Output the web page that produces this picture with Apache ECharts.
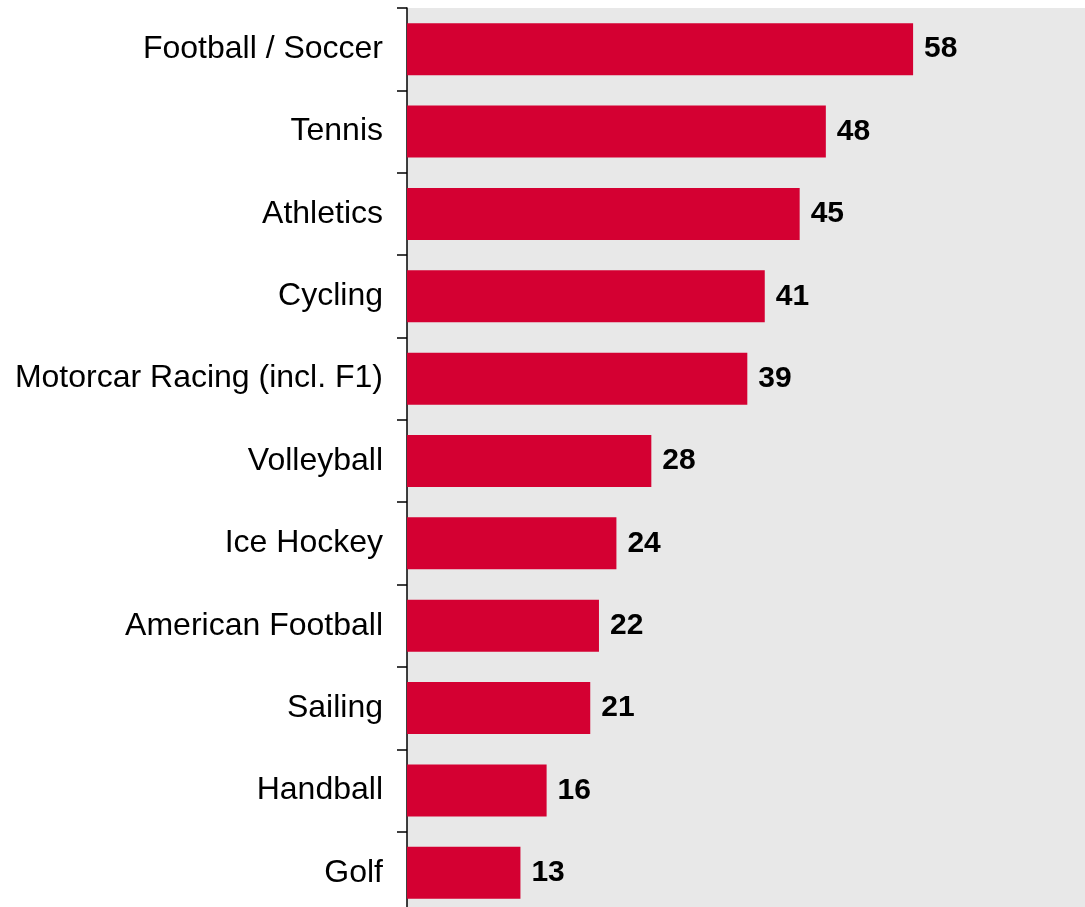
<!DOCTYPE html>
<html>
<head>
<meta charset="utf-8">
<title>Sports interest</title>
<script src="https://cdn.jsdelivr.net/npm/echarts@6/dist/echarts.min.js"></script>
<style>
  html, body { margin: 0; padding: 0; background: #ffffff; overflow: hidden; }
  /* the last band runs a few pixels past the bottom edge of the view */
  #chart { width: 1085px; height: 916px; }
</style>
</head>
<body>
<div id="chart"></div>
<script>
// Sports listed top to bottom, with their scores
const categories = [
  'Football / Soccer',
  'Tennis',
  'Athletics',
  'Cycling',
  'Motorcar Racing (incl. F1)',
  'Volleyball',
  'Ice Hockey',
  'American Football',
  'Sailing',
  'Handball',
  'Golf'
];
const values = [58, 48, 45, 41, 39, 28, 24, 22, 21, 16, 13];

const FONT = '"Liberation Sans", Arial, Helvetica, sans-serif';

const chart = echarts.init(document.getElementById('chart'), null, { renderer: 'canvas' });

chart.setOption({
  animation: false,
  backgroundColor: '#ffffff',
  grid: {
    left: 407,
    top: 8,
    right: 0,
    height: 906,
    show: true,
    backgroundColor: '#e8e8e8',
    borderWidth: 0,
    containLabel: false
  },
  xAxis: {
    type: 'value',
    min: 0,
    max: 77.7,
    show: false
  },
  yAxis: {
    type: 'category',
    data: categories,
    inverse: true,
    axisLine: { show: true, lineStyle: { color: '#000000', width: 1.5 } },
    axisTick: { show: true, length: 10, lineStyle: { color: '#000000', width: 1.5 } },
    axisLabel: {
      margin: 24,
      color: '#000000',
      fontSize: 32,
      fontFamily: FONT
    },
    splitLine: { show: false }
  },
  series: [{
    type: 'bar',
    data: values,
    barWidth: 52,
    itemStyle: { color: '#d40032' },
    label: {
      show: true,
      position: 'right',
      distance: 11,
      color: '#000000',
      fontSize: 30,
      fontWeight: 'bold',
      fontFamily: FONT
    }
  }]
});
</script>
</body>
</html>
